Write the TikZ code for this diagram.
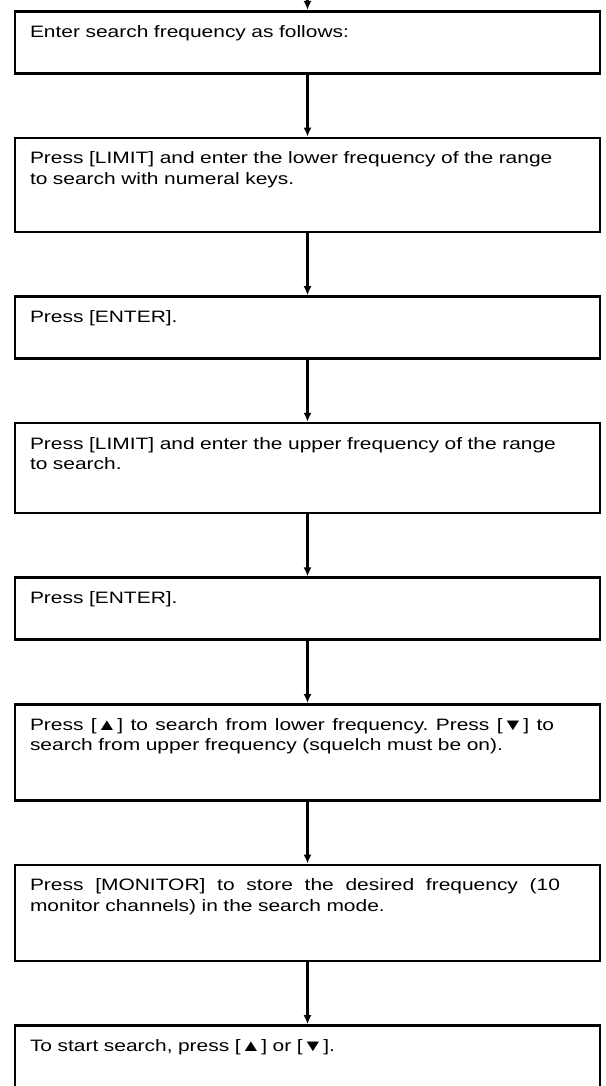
\documentclass[tikz,border=0pt]{standalone}
\usepackage{fontspec}
\setmainfont{Liberation Sans}[FakeStretch=1.27]
\usepackage{xcolor}
\usepackage{tikz}
\usetikzlibrary{arrows.meta, positioning}
\frenchspacing
% first line spread over a fixed width, as in the printed sheet
\newcommand{\fullline}[2]{{\spaceskip=0.28em plus 1fil\relax\hbox to #1{#2}}}
\tikzset{
  block/.style={rectangle, draw=black, line width=2.6pt,
    text width=555pt, align=left, inner xsep=15pt, inner ysep=0pt,
    text height=26pt, text depth=36pt, font=\fontsize{16.5}{20.5}\selectfont},
  tallblock/.style={block, text depth=68pt},
  arrow/.style={-{Latex[length=9pt, width=8pt]}, line width=2.6pt, color=black}
}

\begin{document}
\begin{tikzpicture}[x=1pt, y=1pt, node distance=62pt]
  \useasboundingbox (0,0) rectangle (605,-1086);
  \coordinate (entry) at (307.5,0);
  \node[block, anchor=north] (start) at (307.5,-10) {Enter search frequency as follows:};
  \node[tallblock, below=of start] (lower) {Press [LIMIT] and enter the lower frequency of the range\\to search with numeral keys.};
  \node[block, below=of lower] (enterlow) {Press [ENTER].};
  \node[tallblock, text depth=64pt, below=of enterlow] (upper) {Press [LIMIT] and enter the upper frequency of the range\\to search.};
  \node[block, below=of upper] (enterup) {Press [ENTER].};
  \node[tallblock, text depth=70pt, below=of enterup] (scan) {\fullline{524pt}{Press [▲] to search from lower frequency. Press [▼] to}\\search from upper frequency (squelch must be on).};
  \node[tallblock, text depth=70pt, below=of scan] (monitor) {\fullline{530pt}{Press [MONITOR] to store the desired frequency (10}\\monitor channels) in the search mode.};
  \node[block, below=of monitor] (resume) {To start search, press [▲] or [▼].};

  \draw[arrow] (entry) -- (start);
  \draw[arrow] (start) -- (lower);
  \draw[arrow] (lower) -- (enterlow);
  \draw[arrow] (enterlow) -- (upper);
  \draw[arrow] (upper) -- (enterup);
  \draw[arrow] (enterup) -- (scan);
  \draw[arrow] (scan) -- (monitor);
  \draw[arrow] (monitor) -- (resume);
\end{tikzpicture}
\end{document}
